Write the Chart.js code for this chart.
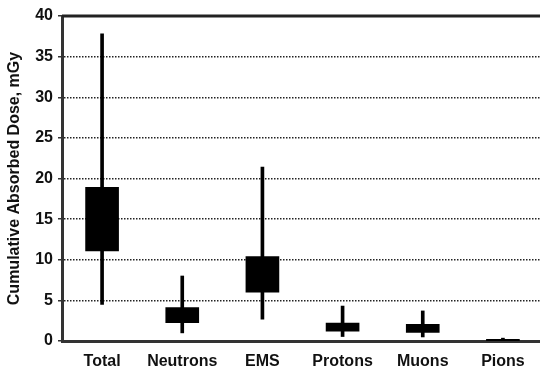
<!DOCTYPE html>
<html>
<head>
<meta charset="utf-8">
<script src="https://cdn.jsdelivr.net/npm/chart.js@4/dist/chart.umd.min.js"></script>
<style>
  html, body { margin: 0; padding: 0; background: #fff; overflow: hidden; }
  #wrap { width: 543px; height: 373px; }
</style>
</head>
<body>
<div id="wrap"><canvas id="doseChart"></canvas></div>
<script>
const categories = ["Total", "Neutrons", "EMS", "Protons", "Muons", "Pions"];
const minValues = [4.5, 1.0, 2.7, 0.55, 0.5, 0.0];
const q1Values = [11.1, 2.25, 6.0, 1.2, 1.07, 0.05];
const q3Values = [18.9, 4.1, 10.4, 2.2, 2.05, 0.2];
const maxValues = [37.8, 8.0, 21.4, 4.3, 3.7, 0.35];
const yTicks = [0, 5, 10, 15, 20, 25, 30, 35, 40];

// top frame line of the plot
const topLine = {
    id: "topLine",
    afterDraw(chart) {
        const { ctx, chartArea } = chart;
        ctx.save();
        ctx.strokeStyle = "#222";
        ctx.lineWidth = 3;
        ctx.beginPath();
        ctx.moveTo(chartArea.left, chartArea.top);
        ctx.lineTo(chart.width, chartArea.top);
        ctx.stroke();
        ctx.restore();
    }
};

new Chart(document.getElementById("doseChart"), {
    type: "bar",
    data: {
        labels: categories,
        datasets: [
            {
                label: "Range",
                data: categories.map((c, i) => [minValues[i], maxValues[i]]),
                backgroundColor: "#000",
                barThickness: 3,
                grouped: false,
            },
            {
                label: "Interquartile",
                data: categories.map((c, i) => [q1Values[i], q3Values[i]]),
                backgroundColor: "#000",
                barThickness: 33,
                grouped: false,
            }
        ]
    },
    options: {
        responsive: true,
        maintainAspectRatio: false,
        animation: false,
        layout: { padding: { top: 16, right: 0, left: 0, bottom: 0 } },
        plugins: {
            legend: { display: false },
            tooltip: { enabled: false }
        },
        scales: {
            x: {
                grid: { display: false, drawTicks: false },
                border: { color: "#333", width: 3 },
                ticks: {
                    color: "#111",
                    padding: 11,
                    font: { family: "Liberation Sans", size: 16, weight: "bold" }
                },
                afterFit(scale) { scale.height = 32; }
            },
            y: {
                min: 0,
                max: 40,
                afterBuildTicks(scale) { scale.ticks = yTicks.map(v => ({ value: v })); },
                grid: {
                    color: ctx => (ctx.tick && ctx.tick.value > 0 && ctx.tick.value < 40) ? "#222" : "rgba(0,0,0,0)",
                    lineWidth: 1.5,
                    tickLength: 4,
                    tickColor: "#333",
                    drawTicks: true
                },
                border: { color: "#333", width: 3, dash: [1.5, 1.5] },
                ticks: {
                    color: "#111",
                    padding: 5,
                    font: { family: "Liberation Sans", size: 16, weight: "bold" }
                },
                title: {
                    display: true,
                    text: "Cumulative Absorbed Dose, mGy",
                    color: "#111",
                    padding: { top: 5, bottom: 4 },
                    font: { family: "Liberation Sans", size: 16, weight: "bold" }
                },
                afterFit(scale) { scale.width = 62; }
            }
        }
    },
    plugins: [topLine]
});
</script>
</body>
</html>
